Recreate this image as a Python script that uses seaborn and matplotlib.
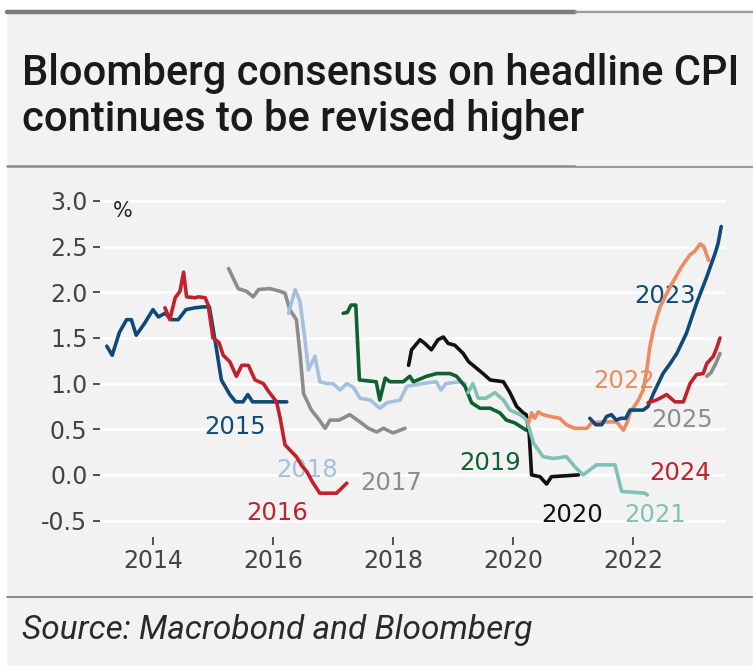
import matplotlib
matplotlib.use("Agg")
import matplotlib.pyplot as plt
import seaborn as sns
import pandas as pd
from matplotlib.patches import Rectangle
from matplotlib.lines import Line2D

W, H = 753, 666

# ---------------- data (forecast date in decimal years, consensus %) ----------------
t2015 = [2013.23, 2013.32, 2013.44, 2013.56, 2013.64, 2013.72, 2013.86, 2014.00, 2014.09, 2014.20, 2014.31, 2014.42, 2014.55, 2014.70, 2014.84, 2014.94, 2015.05, 2015.14, 2015.28, 2015.38, 2015.50, 2015.58, 2015.66, 2015.90, 2016.23]
v2015 = [1.41, 1.31, 1.56, 1.70, 1.70, 1.53, 1.66, 1.81, 1.73, 1.77, 1.70, 1.70, 1.81, 1.83, 1.84, 1.84, 1.41, 1.04, 0.88, 0.80, 0.80, 0.88, 0.80, 0.80, 0.80]

t2016 = [2014.20, 2014.28, 2014.37, 2014.45, 2014.51, 2014.56, 2014.70, 2014.76, 2014.87, 2014.92, 2015.00, 2015.10, 2015.17, 2015.28, 2015.39, 2015.48, 2015.59, 2015.70, 2015.84, 2015.92, 2016.06, 2016.12, 2016.20, 2016.30, 2016.39, 2016.48, 2016.56, 2016.66, 2016.78, 2017.06, 2017.23]
v2016 = [1.83, 1.70, 1.94, 2.01, 2.22, 1.95, 1.94, 1.95, 1.94, 1.86, 1.50, 1.45, 1.31, 1.24, 1.08, 1.20, 1.20, 1.04, 1.00, 0.92, 0.80, 0.62, 0.33, 0.26, 0.20, 0.10, 0.04, -0.08, -0.20, -0.20, -0.09]

t2017 = [2015.26, 2015.34, 2015.42, 2015.56, 2015.67, 2015.76, 2015.95, 2016.12, 2016.20, 2016.28, 2016.39, 2016.45, 2016.51, 2016.64, 2016.75, 2016.87, 2016.95, 2017.10, 2017.28, 2017.45, 2017.59, 2017.73, 2017.84, 2018.00, 2018.20]
v2017 = [2.26, 2.15, 2.04, 2.01, 1.95, 2.03, 2.04, 2.01, 1.99, 1.81, 1.70, 1.33, 0.89, 0.71, 0.62, 0.51, 0.60, 0.60, 0.66, 0.58, 0.51, 0.47, 0.51, 0.46, 0.51]

t2018 = [2016.26, 2016.37, 2016.45, 2016.53, 2016.59, 2016.70, 2016.78, 2016.90, 2017.00, 2017.12, 2017.23, 2017.34, 2017.45, 2017.62, 2017.78, 2017.90, 2018.12, 2018.23, 2018.50, 2018.72, 2018.80, 2018.88, 2019.12, 2019.20]
v2018 = [1.77, 2.03, 1.90, 1.50, 1.15, 1.30, 1.02, 1.00, 1.00, 0.93, 1.00, 0.96, 0.84, 0.82, 0.73, 0.79, 0.82, 0.97, 1.00, 1.02, 0.93, 1.00, 1.02, 1.00]

t2019 = [2017.17, 2017.24, 2017.30, 2017.38, 2017.44, 2017.72, 2017.78, 2017.87, 2017.95, 2018.17, 2018.28, 2018.34, 2018.56, 2018.73, 2018.95, 2019.06, 2019.20, 2019.31, 2019.45, 2019.62, 2019.78, 2019.89, 2020.03, 2020.22]
v2019 = [1.77, 1.78, 1.86, 1.86, 1.04, 1.02, 0.82, 1.06, 1.02, 1.02, 1.08, 1.02, 1.08, 1.11, 1.11, 1.08, 0.97, 0.79, 0.73, 0.73, 0.68, 0.60, 0.57, 0.49]

t2020 = [2018.26, 2018.31, 2018.45, 2018.53, 2018.64, 2018.75, 2018.84, 2018.92, 2019.03, 2019.17, 2019.26, 2019.39, 2019.50, 2019.62, 2019.84, 2019.95, 2020.06, 2020.17, 2020.22, 2020.27, 2020.31, 2020.45, 2020.56, 2020.64, 2021.09]
v2020 = [1.20, 1.37, 1.48, 1.44, 1.37, 1.48, 1.51, 1.44, 1.42, 1.33, 1.24, 1.17, 1.11, 1.04, 1.02, 0.90, 0.75, 0.68, 0.66, 0.45, 0.00, -0.02, -0.10, -0.02, 0.00]

t2021 = [2019.25, 2019.33, 2019.42, 2019.55, 2019.70, 2019.84, 2019.95, 2020.12, 2020.23, 2020.34, 2020.50, 2020.67, 2020.89, 2021.03, 2021.17, 2021.39, 2021.70, 2021.81, 2022.20, 2022.24]
v2021 = [0.90, 1.00, 0.84, 0.84, 0.90, 0.82, 0.71, 0.66, 0.60, 0.35, 0.20, 0.18, 0.20, 0.09, 0.00, 0.11, 0.11, -0.18, -0.20, -0.22]

t2022 = [2020.26, 2020.31, 2020.36, 2020.42, 2020.50, 2020.62, 2020.78, 2020.89, 2021.03, 2021.23, 2021.31, 2021.50, 2021.73, 2021.84, 2021.90, 2021.95, 2022.09, 2022.17, 2022.23, 2022.28, 2022.35, 2022.45, 2022.62, 2022.81, 2022.95, 2023.03, 2023.12, 2023.18, 2023.26]
v2022 = [0.57, 0.68, 0.62, 0.69, 0.66, 0.64, 0.62, 0.55, 0.51, 0.51, 0.57, 0.58, 0.58, 0.49, 0.57, 0.68, 0.82, 0.93, 1.15, 1.40, 1.62, 1.84, 2.06, 2.28, 2.41, 2.45, 2.53, 2.50, 2.35]

t2023 = [2021.28, 2021.38, 2021.48, 2021.56, 2021.64, 2021.72, 2021.80, 2021.88, 2021.95, 2022.17, 2022.25, 2022.34, 2022.50, 2022.62, 2022.73, 2022.89, 2023.06, 2023.23, 2023.37, 2023.42, 2023.47]
v2023 = [0.62, 0.55, 0.55, 0.64, 0.66, 0.60, 0.62, 0.62, 0.71, 0.71, 0.75, 0.89, 1.11, 1.22, 1.33, 1.55, 1.88, 2.17, 2.43, 2.54, 2.72]

t2024 = [2022.25, 2022.39, 2022.48, 2022.56, 2022.70, 2022.84, 2022.95, 2023.06, 2023.17, 2023.23, 2023.34, 2023.40, 2023.45]
v2024 = [0.79, 0.82, 0.85, 0.88, 0.80, 0.80, 1.00, 1.10, 1.11, 1.22, 1.30, 1.40, 1.50]

t2025 = [2023.23, 2023.30, 2023.38, 2023.45]
v2025 = [1.08, 1.12, 1.22, 1.33]

series_names = ["2015", "2016", "2017", "2018", "2019", "2020", "2021", "2022", "2023", "2024", "2025"]
series_t = [t2015, t2016, t2017, t2018, t2019, t2020, t2021, t2022, t2023, t2024, t2025]
series_v = [v2015, v2016, v2017, v2018, v2019, v2020, v2021, v2022, v2023, v2024, v2025]

palette = {"2015": "#0e4a78", "2016": "#c3202e", "2017": "#8c8c8c", "2018": "#a4c0dd",
           "2019": "#0f6131", "2020": "#111111", "2021": "#80c1b5", "2022": "#ec8a60",
           "2023": "#0e4a78", "2024": "#c3202e", "2025": "#8c8c8c"}

# label anchor positions (data coords)
label_pos = {"2015": (2015.37, 0.53), "2016": (2016.07, -0.42), "2018": (2016.57, 0.05),
             "2017": (2017.97, -0.09), "2019": (2019.62, 0.13), "2020": (2020.98, -0.44),
             "2021": (2022.37, -0.44), "2022": (2021.85, 1.03), "2023": (2022.53, 1.96),
             "2025": (2022.82, 0.60), "2024": (2022.78, 0.02)}

xticks = [2014, 2016, 2018, 2020, 2022]
yticks = [-0.5, 0.0, 0.5, 1.0, 1.5, 2.0, 2.5, 3.0]

rows = []
for name, ts, vs in zip(series_names, series_t, series_v):
    for a, b in zip(ts, vs):
        rows.append((name, a, b))
df = pd.DataFrame(rows, columns=["series", "t", "v"])

# ---------------- figure ----------------
sns.set_theme(style="white")
plt.rcParams['font.family'] = ['DejaVu Sans']
plt.rcParams['axes.unicode_minus'] = False

fig = plt.figure(figsize=(W / 100, H / 100), dpi=100)
fig.patch.set_facecolor("white")
fig.patches.append(Rectangle((7 / W, 0), 1 - 7 / W, 1 - 10 / H, transform=fig.transFigure,
                             facecolor="#f2f2f2", edgecolor="none", zorder=-5))

def hline(y, x0, x1, lw, color):
    fig.lines.append(Line2D([x0 / W, x1 / W], [1 - y / H, 1 - y / H], transform=fig.transFigure,
                            lw=lw, color=color, zorder=-1))

hline(12, 7, 575, 3.2, "#7c7c7c")
hline(12, 575, 753, 1.6, "#9a9a9a")
hline(166, 7, 575, 1.8, "#8a8a8a")
hline(167, 575, 753, 1.5, "#9a9a9a")
hline(597, 7, 753, 1.4, "#8a8a8a")

renderer = fig.canvas.get_renderer()

def fit_text(x, y, s, target_w, **kw):
    t = fig.text(x / W, 1 - y / H, s, **kw)
    w = t.get_window_extent(renderer).width
    t.set_fontsize(t.get_fontsize() * target_w / w)
    return t

fit_text(22, 85, "Bloomberg consensus on headline CPI", 718, fontsize=28,
         family=["Roboto", "DejaVu Sans"], weight="medium", color="#1a1a1a", va="baseline", ha="left")
fit_text(22, 131, "continues to be revised higher", 562, fontsize=28,
         family=["Roboto", "DejaVu Sans"], weight="medium", color="#1a1a1a", va="baseline", ha="left")
fit_text(22, 630, "Source: Macrobond and Bloomberg", 511, fontsize=18,
         family=["Roboto", "DejaVu Sans"], style="italic", color="#2a2a2a", va="center", ha="left")

ax = fig.add_axes([100 / W, 1 - 537 / H, (726 - 100) / W, (537 - 190) / H])
ax.set_facecolor("none")
ax.set_zorder(2)

sns.lineplot(data=df, x="t", y="v", hue="series", hue_order=series_names, palette=palette,
             estimator=None, sort=False, legend=False, linewidth=2.6, ax=ax, zorder=3)
for ln in ax.get_lines():
    ln.set_linewidth(2.6)
    ln.set_solid_joinstyle("round")

for name, (lx, ly) in label_pos.items():
    ax.text(lx, ly, name, color=palette[name], fontsize=17.5, ha="center", va="center", zorder=2)

ax.set_xlim(2013.117, 2023.55)
ax.set_ylim(-0.68, 3.12)
ax.set_xticks(xticks)
ax.set_xticklabels([str(x) for x in xticks])
ax.set_yticks(yticks)
ax.set_yticklabels([f"{y:.1f}" for y in yticks])
ax.set_xlabel("")
ax.set_ylabel("")
for s in ax.spines.values():
    s.set_visible(False)
ax.yaxis.grid(True, color="white", lw=1.8)
ax.xaxis.grid(False)
ax.set_axisbelow(True)
ax.tick_params(axis="both", which="both", direction="out", colors="#444444",
               labelsize=17, width=1.3)
ax.tick_params(axis="x", length=6, pad=3, bottom=True)
ax.tick_params(axis="y", length=5, pad=4, left=True)

fig.text(123 / W, 1 - 211 / H, "%", ha="center", va="center", fontsize=15, color="#222222")

fig.savefig("out.png", dpi=100, facecolor=fig.get_facecolor())
